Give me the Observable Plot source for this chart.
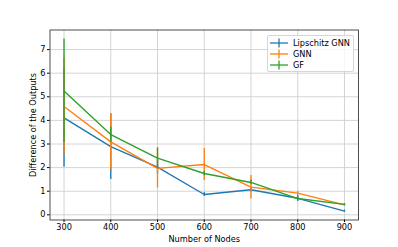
<!DOCTYPE html>
<html>
<head>
<meta charset="utf-8">
<script src="https://cdn.jsdelivr.net/npm/d3@7"></script>
<script src="https://cdn.jsdelivr.net/npm/@observablehq/plot@0.6"></script>
<style>
  html, body { margin: 0; padding: 0; background: #fff; }
  #wrap { position: relative; width: 398px; height: 247px; font-family: "DejaVu Sans", sans-serif; }
  #legend { position: absolute; left: 267px; top: 35px; width: 87px; height: 37px;
    border: 1px solid #d6d6d6; border-radius: 2px; background: rgba(255,255,255,0.8);
    font-size: 8.2px; color: #000; box-sizing: border-box; }
  .row { position: absolute; left: 0; height: 11px; display: flex; align-items: center; }
  .row svg { margin-left: 2px; }
  .row span { margin-left: 5px; white-space: nowrap; }
</style>
</head>
<body>
<div id="wrap"></div>
<script>
const nodes = [300, 400, 500, 600, 700, 800, 900];
const seriesNames = ["Lipschitz GNN", "GNN", "GF"];
const seriesColors = ["#1f77b4", "#ff7f0e", "#2ca02c"];
const lipschitz = [4.11, 2.89, 2.02, 0.86, 1.06, 0.70, 0.16];
const lipschitzErr = [2.10, 1.39, 0.30, 0.08, 0.08, 0.14, 0.04];
const gnn = [4.59, 3.09, 1.97, 2.13, 1.17, 0.92, 0.42];
const gnnErr = [2.05, 1.19, 0.83, 0.68, 0.50, 0.07, 0.06];
const gf = [5.25, 3.40, 2.40, 1.75, 1.37, 0.69, 0.44];
const gfErr = [2.20, 0.31, 0.44, 0.10, 0.10, 0.06, 0.03];
const xTicks = [300, 400, 500, 600, 700, 800, 900];
const yTicks = [0, 1, 2, 3, 4, 5, 6, 7];

const means = [lipschitz, gnn, gf];
const errs = [lipschitzErr, gnnErr, gfErr];
const series = seriesNames.map((name, s) => ({
  name, color: seriesColors[s],
  data: nodes.map((n, i) => ({ n, v: means[s][i], lo: means[s][i] - errs[s][i], hi: means[s][i] + errs[s][i] }))
}));

const marks = [
  Plot.gridX(xTicks, { stroke: "#cfcfcf", strokeOpacity: 1, strokeWidth: 0.9 }),
  Plot.gridY(yTicks, { stroke: "#cfcfcf", strokeOpacity: 1, strokeWidth: 0.9 }),
];
for (const s of series) {
  marks.push(Plot.line(s.data, { x: "n", y: "v", stroke: s.color, strokeWidth: 1.35 }));
  marks.push(Plot.ruleX(s.data, { x: "n", y1: "lo", y2: "hi", stroke: s.color, strokeWidth: 1.35 }));
}
marks.push(Plot.frame({ stroke: "#3a3a3a", strokeWidth: 0.9 }));
marks.push(Plot.axisX(xTicks, { tickSize: 2.5, tickPadding: 2, label: "Number of Nodes", labelAnchor: "center", labelArrow: "none", labelOffset: 22 }));
marks.push(Plot.axisY(yTicks, { tickSize: 2.5, tickPadding: 2, label: "Difference of the Outputs", labelAnchor: "center", labelArrow: "none", labelOffset: 20 }));

const chart = Plot.plot({
  width: 398, height: 247,
  marginLeft: 49.5, marginRight: 40, marginTop: 29.5, marginBottom: 27.5,
  style: { fontFamily: "DejaVu Sans", fontSize: "8.2px", color: "#000", background: "#fff" },
  x: { domain: [270, 930] },
  y: { domain: [-0.22, 7.83] },
  marks
});
const wrap = document.getElementById("wrap");
wrap.appendChild(chart);

const legend = document.createElement("div");
legend.id = "legend";
series.forEach((s, i) => {
  const row = document.createElement("div");
  row.className = "row";
  row.style.top = (1 + i * 11) + "px";
  row.innerHTML = `<svg width="18" height="10"><line x1="0" y1="5" x2="18" y2="5" stroke="${s.color}" stroke-width="1.3"/><line x1="9" y1="0.5" x2="9" y2="9.5" stroke="${s.color}" stroke-width="1.3"/></svg><span>${s.name}</span>`;
  legend.appendChild(row);
});
wrap.appendChild(legend);
</script>
</body>
</html>
